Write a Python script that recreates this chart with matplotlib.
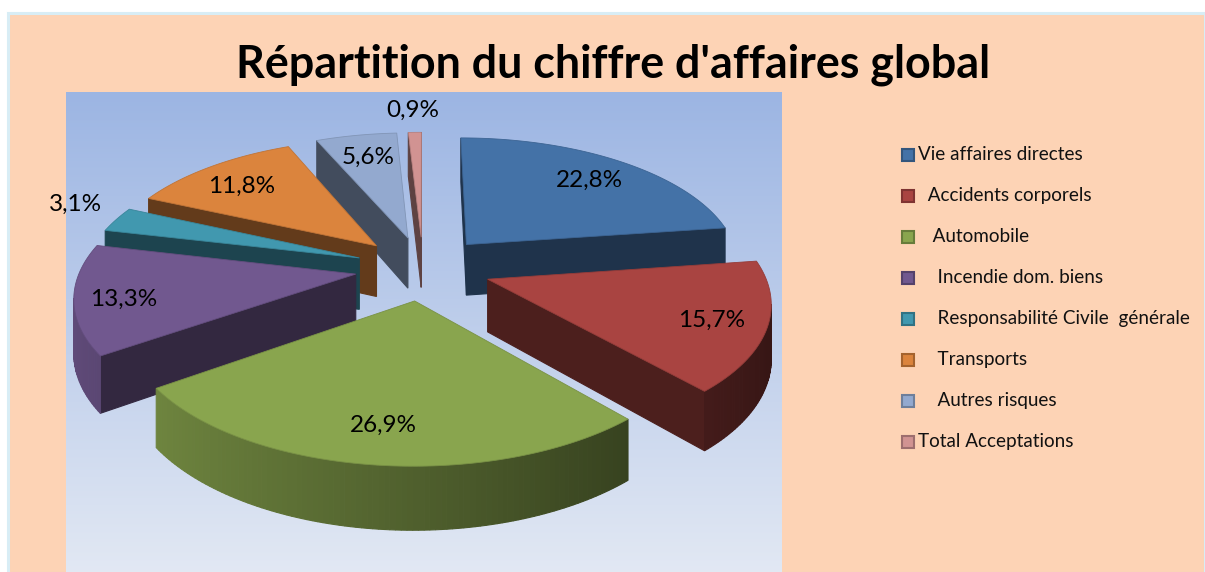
import numpy as np
import matplotlib
matplotlib.use('Agg')
import matplotlib.pyplot as plt
from matplotlib.patches import Rectangle, Polygon

plt.rcParams['font.family'] = ['Lato', 'DejaVu Sans']

categories = ['Vie affaires directes', '  Accidents corporels', '   Automobile',
              '    Incendie dom. biens', '    Responsabilité Civile  générale',
              '    Transports', '    Autres risques', 'Total Acceptations']
values = [22.8, 15.7, 26.9, 13.3, 3.1, 11.8, 5.6, 0.9]
labels = ['22,8%', '15,7%', '26,9%', '13,3%', '3,1%', '11,8%', '5,6%', '0,9%']
colors = ['#4472A7', '#A94441', '#89A54E', '#71588F', '#4198AF', '#DB843D', '#93A9CF', '#D19392']
label_xy = [(589, 180), (712, 320), (383, 425), (124, 299), (76, 204), (242, 186), (368, 157), (413, 110)]

# 3d pie geometry, pixels
cx, cy = 423, 268
R = 275
EXPLODE = 68
TILT = 0.47
DIST = 6.63
DEPTH = 52


def project(x, y, z=0):
    # x to the right, y towards the viewer, z downwards
    s = DIST / (DIST - y / R)
    return cx + x * s, cy + (TILT * y + z) * s


def shade(col, f):
    return tuple(np.array(matplotlib.colors.to_rgb(col)) * f)


fig = plt.figure(figsize=(12.05, 5.72), dpi=100, facecolor='white')
ax = fig.add_axes([0, 0, 1, 1])
ax.axis('off')

ax.add_patch(Rectangle((8, 13), 1197, 560, fc='#FDD3B5', ec='#D8EDF5', lw=2.2, zorder=0))
grad = np.linspace(0, 1, 256)[:, None]
top, bottom = np.array([0.612, 0.71, 0.89]), np.array([0.885, 0.91, 0.955])
ax.imshow(top + (bottom - top) * grad[:, :, None], extent=[66, 782, 572, 92],
          aspect='auto', zorder=1, interpolation='bilinear')
ax.set_xlim(0, 1205)
ax.set_ylim(572, 0)

# build wedges from the values, clockwise from 12 o'clock
total = sum(values)
edges = np.cumsum([0] + values) / total * 2 * np.pi
wedges = []
for i, col in enumerate(colors):
    t0, t1 = edges[i], edges[i + 1]
    mid = (t0 + t1) / 2
    ox, oy = EXPLODE * np.sin(mid), -EXPLODE * np.cos(mid)
    th = np.linspace(t0, t1, max(4, int((t1 - t0) * 60)))
    wedges.append((oy, i, col, th, ox, oy))

z = 2
for _, i, col, th, ox, oy in sorted(wedges, key=lambda w: w[0]):
    xs = ox + R * np.sin(th)
    ys = oy - R * np.cos(th)
    faces = []
    # the two cut faces
    for (xa, ya), (xb, yb) in [((ox, oy), (xs[0], ys[0])), ((xs[-1], ys[-1]), (ox, oy))]:
        faces.append(((xa, ya), (xb, yb), 0.45))
    # outer wall pieces
    for k in range(len(th) - 1):
        tm = (th[k] + th[k + 1]) / 2
        faces.append(((xs[k], ys[k]), (xs[k + 1], ys[k + 1]), 0.58 - 0.27 * np.sin(tm)))
    for (xa, ya), (xb, yb), f in faces:
        quad = [project(xa, ya), project(xb, yb), project(xb, yb, DEPTH), project(xa, ya, DEPTH)]
        q = np.array(quad)
        area = np.sum(q[:, 0] * np.roll(q[:, 1], -1) - np.roll(q[:, 0], -1) * q[:, 1])
        if area > 0:
            continue
        c = shade(col, f)
        ax.add_patch(Polygon(quad, closed=True, fc=c, ec=c, lw=0.8, zorder=z))
    pts = [project(ox, oy)] + [project(a, b) for a, b in zip(xs, ys)]
    ax.add_patch(Polygon(pts, closed=True, fc=col, ec=shade(col, 0.88), lw=0.6, zorder=z + 1))
    z += 2

for lab, (x, y) in zip(labels, label_xy):
    ax.text(x, y, lab, ha='center', va='center', fontsize=17.5, color='black', zorder=40)

ax.text(613, 65, "Répartition du chiffre d'affaires global", ha='center', va='center',
        fontsize=32.3, fontweight='bold', color='black', zorder=40)

# legend by hand, spaced as in the reference
for i, (name, col) in enumerate(zip(categories, colors)):
    y = 154.5 + i * 41
    ax.add_patch(Rectangle((901.5, y - 6), 12, 12, fc=col, ec=shade(col, 0.75), lw=1.5, zorder=40))
    ax.text(918, y, name, ha='left', va='center', fontsize=13.6, color='#111111', zorder=40)

fig.savefig('out.png', dpi=100)
